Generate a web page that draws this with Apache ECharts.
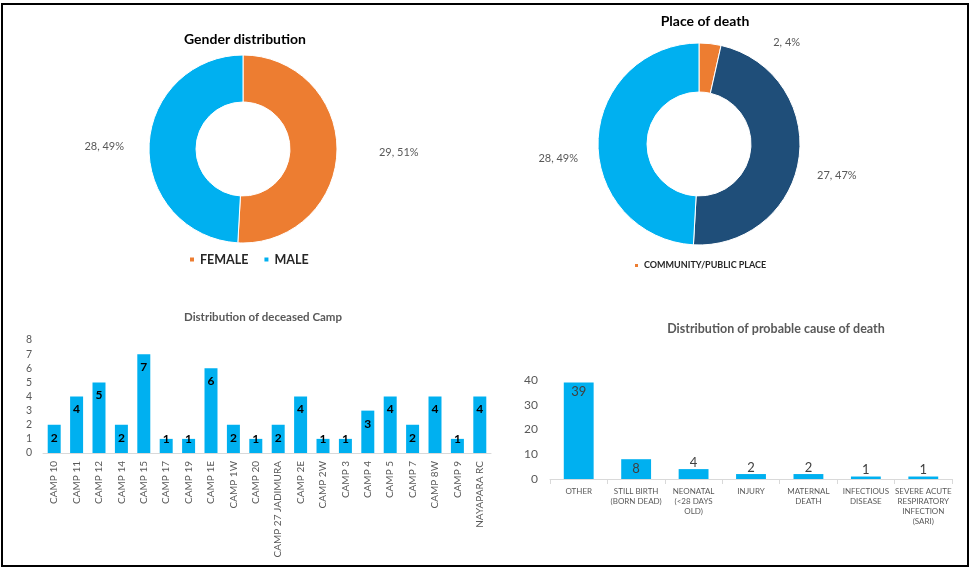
<!DOCTYPE html>
<html><head><meta charset="utf-8">
<script src="https://cdn.jsdelivr.net/npm/echarts@6/dist/echarts.min.js"></script>
<style>
html,body{margin:0;padding:0;background:#fff;}
#c{position:absolute;left:0;top:0;width:969px;height:567px;}
#frame{position:absolute;left:1px;top:3px;width:964px;height:560px;border:2px solid #000;pointer-events:none;}
</style>
</head><body>
<div id="c"></div><div id="frame"></div>
<script>
const genderNames = ['FEMALE', 'MALE'];
const genderValues = [29, 28];
const placeNames = ['COMMUNITY/PUBLIC PLACE', 'HEALTH FACILITY', 'HOME'];
const placeValues = [2, 27, 28];
const campCategories = ['CAMP 10','CAMP 11','CAMP 12','CAMP 14','CAMP 15','CAMP 17','CAMP 19','CAMP 1E','CAMP 1W','CAMP 20','CAMP 27 JADIMURA','CAMP 2E','CAMP 2W','CAMP 3','CAMP 4','CAMP 5','CAMP 7','CAMP 8W','CAMP 9','NAYAPARA RC'];
const campValues = [2,4,5,2,7,1,1,6,2,1,2,4,1,1,3,4,2,4,1,4];
const causeCategories = ['OTHER','STILL BIRTH\n(BORN DEAD)','NEONATAL\n(<28 DAYS\nOLD)','INJURY','MATERNAL\nDEATH','INFECTIOUS\nDISEASE','SEVERE ACUTE\nRESPIRATORY\nINFECTION\n(SARI)'];
const causeValues = [39,8,4,2,2,1,1];

const ORANGE = '#ED7D31', LBLUE = '#00B0F0', DBLUE = '#1F4E79', GREY = '#595959';
const chart = echarts.init(document.getElementById('c'));

const genderLines = [{length: 25, length2: 12}, {length: 10, length2: 10}];
const placeLines = [{length: 1, length2: 58}, {length: 5, length2: 8}, {length: 5, length2: 10}];
const placeShift = [0, 17, 17];

chart.setOption({
  animation: false,
  textStyle: {fontFamily: 'Lato'},
  title: [
    {text: 'Gender distribution', left: 240, top: 27, textAlign: 'center',
     textStyle: {fontSize: 14, fontWeight: 'bold', color: '#000'}},
    {text: 'Place of death', left: 700, top: 9, textAlign: 'center',
     textStyle: {fontSize: 14, fontWeight: 'bold', color: '#000'}},
    {text: 'Distribution of deceased Camp', left: 258, top: 306, textAlign: 'center',
     textStyle: {fontSize: 11.5, fontWeight: 'bold', color: GREY}},
    {text: 'Distribution of probable cause of death', left: 771, top: 317, textAlign: 'center',
     textStyle: {fontSize: 12.5, fontWeight: 'bold', color: GREY}}
  ],
  legend: [
    {data: genderNames, left: 183, top: 248, icon: 'rect', itemWidth: 6, itemHeight: 6, itemGap: 14,
     textStyle: {fontSize: 12.5, fontWeight: 'bold', color: '#262626'}, selectedMode: false},
    {data: [placeNames[0]], left: 628, top: 256, icon: 'rect', itemWidth: 5, itemHeight: 5, itemGap: 10,
     textStyle: {fontSize: 9, fontWeight: 'bold', color: '#262626'}, selectedMode: false}
  ],
  grid: [
    {left: 43, right: 478, top: 340, bottom: 114},
    {left: 550, right: 17, top: 380, bottom: 88}
  ],
  xAxis: [
    {type: 'category', gridIndex: 0, data: campCategories,
     axisLine: {lineStyle: {color: '#d9d9d9'}}, axisTick: {show: false},
     axisLabel: {rotate: 90, interval: 0, fontSize: 10, color: GREY, margin: 8}},
    {type: 'category', gridIndex: 1, data: causeCategories,
     axisLine: {lineStyle: {color: '#d9d9d9'}},
     axisTick: {show: true, length: 5, lineStyle: {color: '#d9d9d9'}},
     axisLabel: {interval: 0, fontSize: 8, color: GREY, margin: 7, lineHeight: 10}}
  ],
  yAxis: [
    {type: 'value', gridIndex: 0, min: 0, max: 8, interval: 1,
     axisLine: {show: false}, axisTick: {show: false}, splitLine: {show: false},
     axisLabel: {fontSize: 10.5, color: GREY, margin: 11}},
    {type: 'value', gridIndex: 1, min: 0, max: 40, interval: 10,
     axisLine: {show: false}, axisTick: {show: false}, splitLine: {show: false},
     axisLabel: {fontSize: 12, color: GREY, margin: 12}}
  ],
  series: [
    {type: 'pie', name: 'Gender', center: [243, 149], radius: [47, 94], startAngle: 90, clockwise: true,
     avoidLabelOverlap: false, percentPrecision: 0,
     itemStyle: {borderColor: '#fff', borderWidth: 1},
     label: {position: 'outside', formatter: '{c}, {d}%', fontSize: 11, color: GREY},
     labelLine: {show: false},
     data: genderNames.map((n, i) => ({name: n, value: genderValues[i],
       itemStyle: {color: [ORANGE, LBLUE][i]}, labelLine: Object.assign({show: false}, genderLines[i])}))},
    {type: 'pie', name: 'Place', center: [699, 144], radius: [52, 101], startAngle: 90, clockwise: true,
     avoidLabelOverlap: false, percentPrecision: 0,
     itemStyle: {borderColor: '#fff', borderWidth: 1},
     label: {position: 'outside', formatter: '{c}, {d}%', fontSize: 11, color: GREY},
     labelLine: {show: false},
     labelLayout: function (p) { return {dy: placeShift[p.dataIndex]}; },
     data: placeNames.map((n, i) => ({name: n, value: placeValues[i],
       itemStyle: {color: [ORANGE, DBLUE, LBLUE][i]}, labelLine: Object.assign({show: false}, placeLines[i])}))},
    {type: 'bar', xAxisIndex: 0, yAxisIndex: 0, barWidth: '58%',
     itemStyle: {color: LBLUE},
     label: {show: true, fontSize: 12, fontWeight: 'bold', color: '#000'},
     data: campValues.map(v => ({value: v,
       label: v > 1 ? {position: 'insideTop', distance: 7} : {position: 'top', distance: -6}}))},
    {type: 'bar', xAxisIndex: 1, yAxisIndex: 1, barWidth: '52%',
     itemStyle: {color: LBLUE},
     label: {show: true, fontSize: 13, color: '#404040'},
     data: causeValues.map(v => ({value: v,
       label: v >= 8 ? {position: 'insideTop', distance: 3} : {position: 'top', distance: 0}}))}
  ]
});
</script>
</body></html>
